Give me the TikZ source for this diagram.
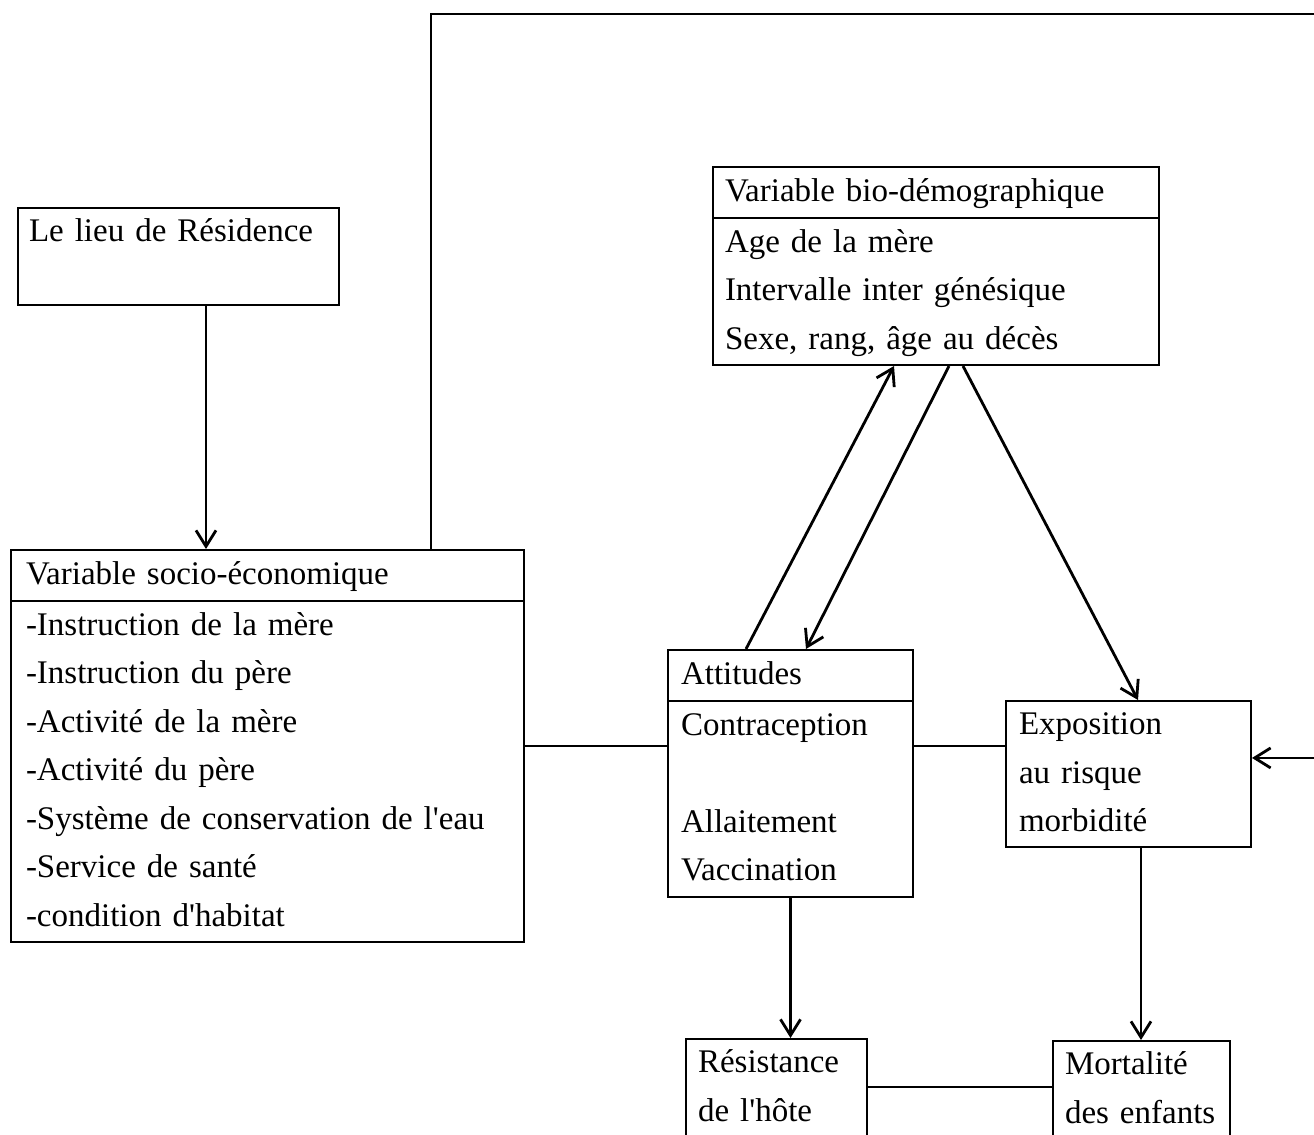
\documentclass[tikz,border=0pt]{standalone}
\usepackage{fontspec}
\setmainfont{Liberation Serif}[Ligatures=TeXOff]
\usepackage{tikz}
\usetikzlibrary{arrows.meta, positioning, shapes, calc}

\begin{document}
\begin{tikzpicture}[
  x=0.5pt, y=-0.5pt,
  box/.style={rectangle, draw, line width=1pt, anchor=north west, align=left,
              inner ysep=0pt, font={\fontsize{16.5}{24.25}\selectfont},
              execute at begin node=\strut, execute at end node=\strut},
  varbox/.style={box, rectangle split, rectangle split parts=2},
  arrow/.style={-{Straight Barb[length=8pt,width=10pt]}, line width=1.4pt},
  link/.style={line width=1pt}
]
  \useasboundingbox (0,0) rectangle (1314,1135);
  % 左列：居住地与社会经济变量
  \node[box, text width=149.5pt, inner xsep=5.5pt, text depth=31.5pt] (res) at (17,207) {Le lieu de Résidence};
  \node[varbox, text width=241.5pt, inner xsep=7.5pt] (socio) at (10,549)
    {Variable socio-économique
     \nodepart{two}\strut-Instruction de la mère\\-Instruction du père\\-Activité de la mère\\-Activité du père\\-Système de conservation de l'eau\\-Service de santé\\-condition d'habitat};
  % 右侧：生物人口变量与中间变量
  \node[varbox, text width=211pt, inner xsep=6pt] (bio) at (712,166)
    {Variable bio-démographique
     \nodepart{two}\strut Age de la mère\\Intervalle inter génésique\\Sexe, rang, âge au décès};
  \node[varbox, text width=109.5pt, inner xsep=6.5pt] (att) at (667,649)
    {Attitudes
     \nodepart{two}\strut Contraception\\\mbox{}\\Allaitement\\Vaccination};
  \node[box, text width=109.5pt, inner xsep=6.5pt] (expo) at (1005,700) {Exposition\\au risque\\morbidité};
  % 底部：结果
  \node[box, text width=78.5pt, inner xsep=6pt, text depth=45pt] (resist) at (685,1038) {Résistance\\de l'hôte};
  \node[box, text width=76.5pt, inner xsep=6pt, text depth=45pt] (mort) at (1052,1040) {Mortalité\\des enfants};
  \coordinate (ret) at (1330,14);
  % 箭头
  \draw[arrow] ([xshift=13.75pt]res.south) -- ([xshift=13.75pt]res.south |- socio.north);
  \draw[arrow] ([xshift=81.75pt]socio.north) |- (ret) |- ([yshift=7.9pt]expo.east);
  \draw[link] (socio.east) -- (socio.east -| att.west);
  \draw[link] (socio.east -| att.east) -- (socio.east -| expo.west);
  \draw[arrow] ([xshift=-22.25pt]att.north) -- ([xshift=-21pt]bio.south);
  \draw[arrow] ([xshift=6.5pt]bio.south) -- ([xshift=7.75pt]att.north);
  \draw[arrow] ([xshift=13.5pt]bio.south) -- ([xshift=4.75pt]expo.north);
  \draw[arrow] (att.south) -- (att.south |- resist.north);
  \draw[arrow] ([xshift=6.25pt]expo.south) -- ([xshift=6.25pt]expo.south |- mort.north);
  \draw[link] ([yshift=-24.5pt]resist.north east) -- ([yshift=-24.5pt]resist.north east -| mort.west);
\end{tikzpicture}
\end{document}
